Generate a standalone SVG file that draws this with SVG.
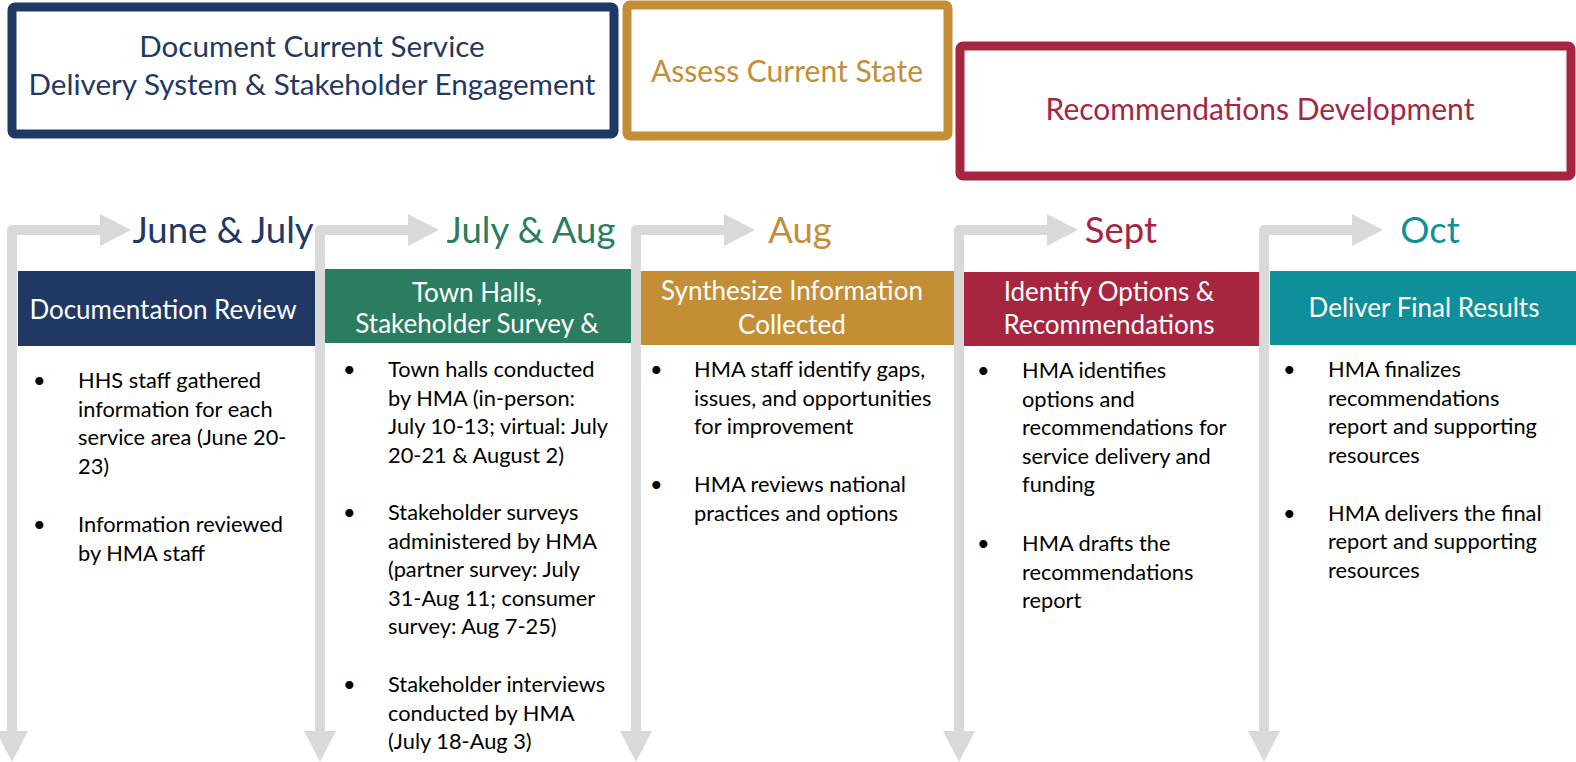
<svg xmlns="http://www.w3.org/2000/svg" width="1576" height="762" viewBox="0 0 1576 762">
<style>
text{font-family:Lato,"Open Sans","Liberation Sans",sans-serif}
.phase{fill:#fff;stroke-width:9}
.ptxt{font-size:30px;text-anchor:middle}
.month{font-size:36.5px;text-anchor:middle}
.htxt{font-size:26px;fill:#fff;text-anchor:middle}
.body{font-size:21.8px;fill:#000}
.conn{fill:none;stroke:#d9d9d9;stroke-width:10;stroke-linejoin:round}
.head{fill:#d9d9d9}
</style>
<defs>
<g id="arrow">
<path class="conn" d="M0,732 V230 H88"/>
<polygon class="head" points="88,214 119,230 88,246"/>
<polygon class="head" points="-16,731 16,731 0,762"/>
</g>
</defs>
<g id="connectors">
<use href="#arrow" x="12"/>
<use href="#arrow" x="320"/>
<use href="#arrow" x="636"/>
<use href="#arrow" x="959"/>
<use href="#arrow" x="1264"/>
</g>
<g id="phase-document">
<rect class="phase" x="12" y="7" width="602" height="127" rx="3" stroke="#1f3864"/>
<text class="ptxt" x="312" y="57" fill="#1f3864" style="font-size:29.6px">Document Current Service</text>
<text class="ptxt" x="312" y="95" fill="#1f3864" style="font-size:29.6px">Delivery System &amp; Stakeholder Engagement</text>
</g>
<g id="phase-assess">
<rect class="phase" x="627" y="5" width="321" height="131" rx="3" stroke="#c48e36"/>
<text class="ptxt" x="787" y="82" fill="#c48e36">Assess Current State</text>
</g>
<g id="phase-recommend">
<rect class="phase" x="960" y="46" width="611" height="130" rx="3" stroke="#a6263f"/>
<text class="ptxt" x="1260" y="120" fill="#a6263f">Recommendations Development</text>
</g>
<g id="col-june-july">
<text class="month" x="223" y="243" fill="#1f3864">June &amp; July</text>
<rect x="18" y="271" width="297" height="75" fill="#1f3864"/>
<text class="htxt" x="163" y="319">Documentation Review</text>
<g class="body">
<text x="33" y="388">•</text>
<text x="78" y="388">HHS staff gathered</text>
<text x="78" y="416.5">information for each</text>
<text x="78" y="445">service area (June 20-</text>
<text x="78" y="473.5">23)</text>
<text x="33" y="532">•</text>
<text x="78" y="532">Information reviewed</text>
<text x="78" y="560.5">by HMA staff</text>
</g>
</g>
<g id="col-july-aug">
<text class="month" x="531" y="243" fill="#2a7d5e">July &amp; Aug</text>
<rect x="325" y="269" width="306" height="74" fill="#2a7d5e"/>
<text class="htxt" x="477" y="302">Town Halls,</text>
<text class="htxt" x="477" y="333">Stakeholder Survey &amp;</text>
<g class="body">
<text x="343" y="377">•</text>
<text x="388" y="377">Town halls conducted</text>
<text x="388" y="405.6">by HMA (in-person:</text>
<text x="388" y="434.2">July 10-13; virtual: July</text>
<text x="388" y="462.8">20-21 &amp; August 2)</text>
<text x="343" y="520">•</text>
<text x="388" y="520">Stakeholder surveys</text>
<text x="388" y="548.6">administered by HMA</text>
<text x="388" y="577.2">(partner survey: July</text>
<text x="388" y="605.8">31-Aug 11; consumer</text>
<text x="388" y="634.4">survey: Aug 7-25)</text>
<text x="343" y="692">•</text>
<text x="388" y="692">Stakeholder interviews</text>
<text x="388" y="720.6">conducted by HMA</text>
<text x="388" y="749.2">(July 18-Aug 3)</text>
</g>
</g>
<g id="col-aug">
<text class="month" x="800" y="243" fill="#c48e36">Aug</text>
<rect x="641" y="271" width="313" height="74" fill="#c48e36"/>
<text class="htxt" x="792" y="300">Synthesize Information</text>
<text class="htxt" x="792" y="334">Collected</text>
<g class="body">
<text x="650" y="377">•</text>
<text x="694" y="377">HMA staff identify gaps,</text>
<text x="694" y="405.6">issues, and opportunities</text>
<text x="694" y="434.2">for improvement</text>
<text x="650" y="492">•</text>
<text x="694" y="492">HMA reviews national</text>
<text x="694" y="520.6">practices and options</text>
</g>
</g>
<g id="col-sept">
<text class="month" x="1121" y="243" fill="#a6263f">Sept</text>
<rect x="964" y="272" width="295" height="74" fill="#a6263f"/>
<text class="htxt" x="1109" y="301">Identify Options &amp;</text>
<text class="htxt" x="1109" y="334">Recommendations</text>
<g class="body">
<text x="977" y="378">•</text>
<text x="1022" y="378">HMA identifies</text>
<text x="1022" y="406.6">options and</text>
<text x="1022" y="435.2">recommendations for</text>
<text x="1022" y="463.8">service delivery and</text>
<text x="1022" y="492.4">funding</text>
<text x="977" y="551">•</text>
<text x="1022" y="551">HMA drafts the</text>
<text x="1022" y="579.6">recommendations</text>
<text x="1022" y="608.2">report</text>
</g>
</g>
<g id="col-oct">
<text class="month" x="1430" y="243" fill="#0f8f99">Oct</text>
<rect x="1270" y="271" width="306" height="74" fill="#0f8f99"/>
<text class="htxt" x="1424" y="317">Deliver Final Results</text>
<g class="body">
<text x="1283" y="377">•</text>
<text x="1328" y="377">HMA finalizes</text>
<text x="1328" y="405.6">recommendations</text>
<text x="1328" y="434.2">report and supporting</text>
<text x="1328" y="462.8">resources</text>
<text x="1283" y="520.5">•</text>
<text x="1328" y="520.5">HMA delivers the final</text>
<text x="1328" y="549">report and supporting</text>
<text x="1328" y="577.5">resources</text>
</g>
</g>
</svg>
